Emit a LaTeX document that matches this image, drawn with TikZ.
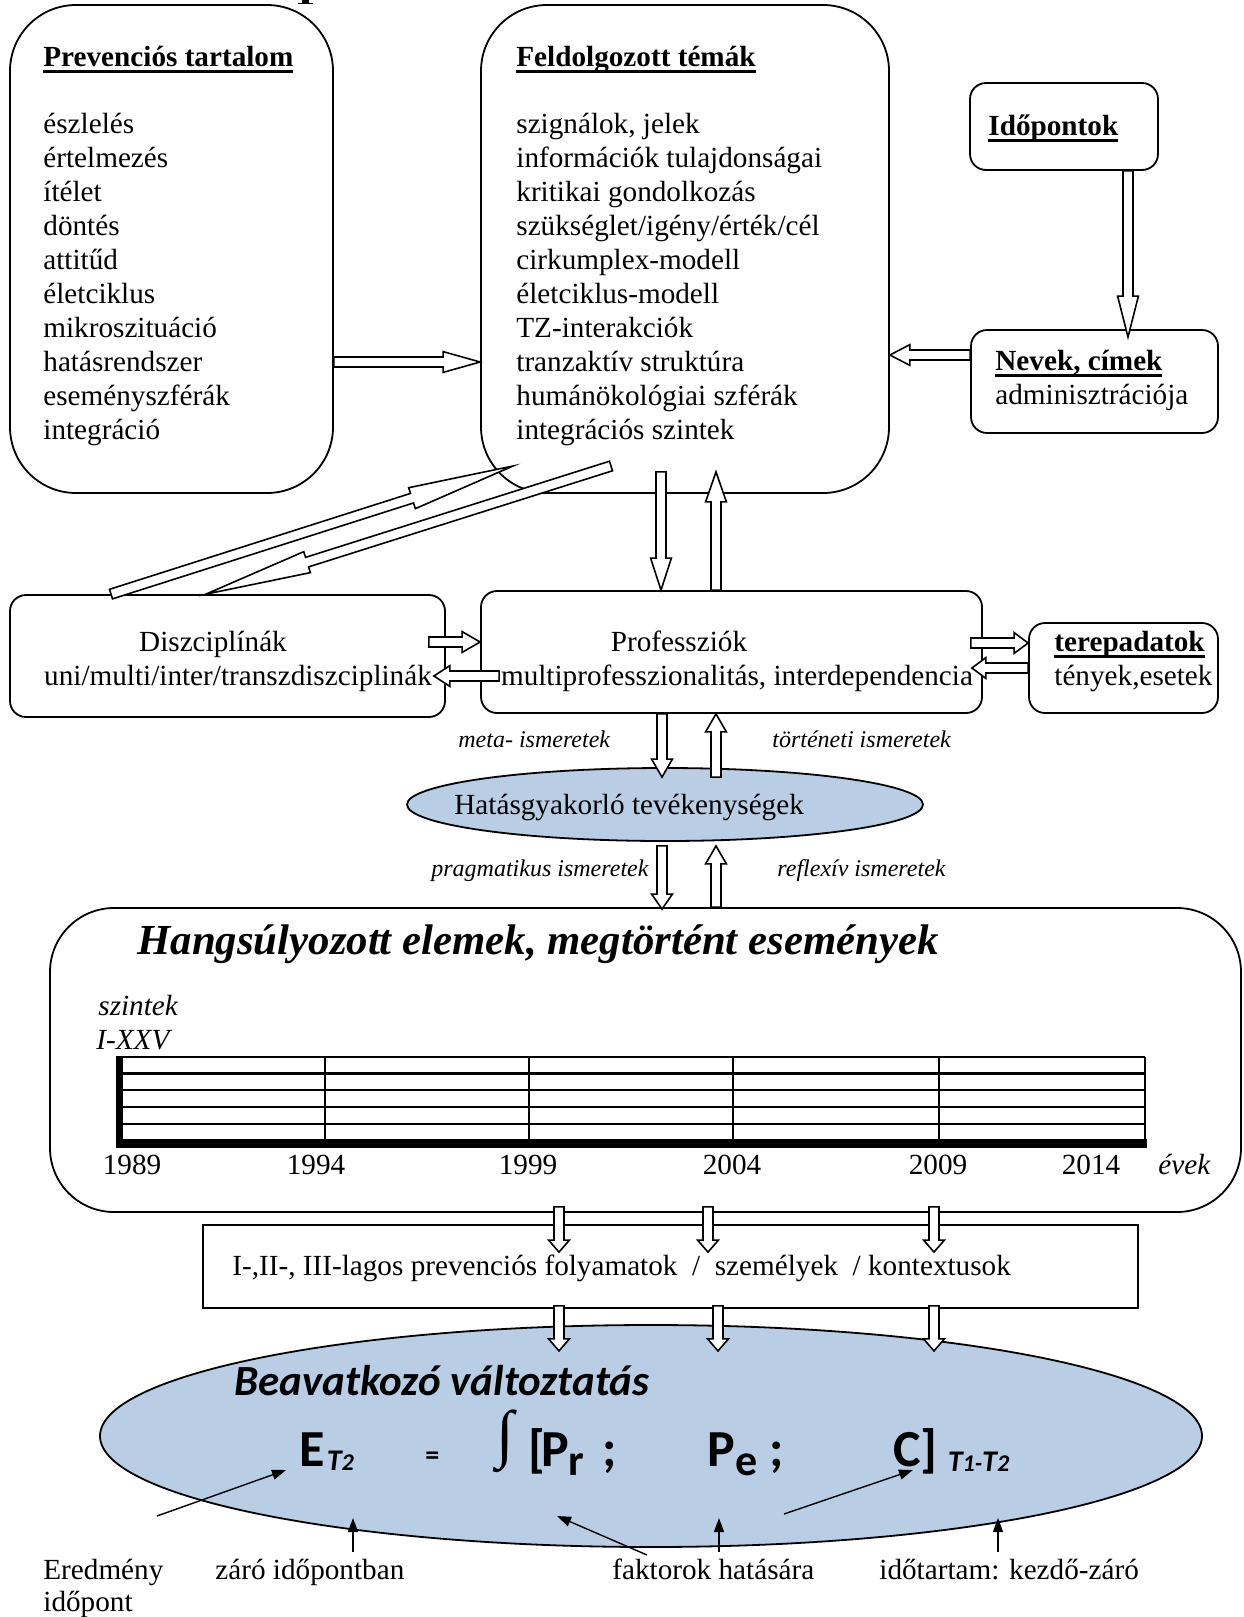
\documentclass[tikz,border=0pt]{standalone}
\usepackage{fontspec}
\setmainfont{Liberation Serif}
\newfontfamily\calib{Carlito}
\usetikzlibrary{calc,arrows.meta,shapes.geometric}
\newsavebox\ulbox
\newcommand\bul[1]{\sbox\ulbox{\textbf{#1}}\rlap{\rule[-3.4pt]{\wd\ulbox}{1.2pt}}\usebox\ulbox}
\definecolor{ellblue}{HTML}{B9CDE5}
\newcommand\barrow[5]{%
 \coordinate (ba-s) at (#1);
 \coordinate (ba-e) at (#2);
 \coordinate (ba-h) at ($(ba-e)!#5!(ba-s)$);
 \path[blockarrow] ($(ba-s)!#3!90:(ba-e)$) -- ($(ba-h)!#3!-90:(ba-s)$) -- ($(ba-h)!#4!-90:(ba-s)$) -- (ba-e) -- ($(ba-h)!#4!90:(ba-s)$) -- ($(ba-h)!#3!90:(ba-s)$) -- ($(ba-s)!#3!-90:(ba-e)$) -- cycle;}
\newcommand\ba[3][9pt]{\barrow{#2}{#3}{2.5pt}{5.2pt}{#1}}
\newcommand\subT[1]{{\itshape\fontsize{15}{15}\selectfont T{\fontsize{12}{12}\selectfont #1}}}
\begin{document}
\begin{tikzpicture}[x=0.5pt,y=-0.5pt,
  txt/.style={font=\fontsize{14.6}{17}\selectfont, inner sep=0pt, anchor=base west},
  itl/.style={font=\fontsize{12}{14}\selectfont\itshape, inner sep=0pt, anchor=base west},
  bigbox/.style={draw, line width=0.9pt, rounded corners=33pt, inner sep=0pt},
  smallbox/.style={draw, line width=0.9pt, rounded corners=8pt, inner sep=0pt},
  ellbox/.style={ellipse, draw, fill=ellblue, line width=0.9pt, inner sep=0pt},
  blockarrow/.style={draw, fill=white, line width=0.8pt, line join=miter},
  ptr/.style={line width=0.7pt, -{Triangle[length=7pt,width=5pt]}},
  calb/.style={font=\calib\bfseries\fontsize{26}{28}\selectfont, inner sep=0pt, anchor=base west},
  tline/.style={line width=1.3pt}
]
\useasboundingbox (0,0) rectangle (1243,1617);
\fill[white] (0,0) rectangle (1243,1617);
\clip (0,0) rectangle (1243,1617);
% cut-off fragment at the top edge
\fill (302,0) rectangle (309,2.5);
\fill (298,2.5) rectangle (313,4);

% boxes
\node[bigbox, minimum width=161.5pt, minimum height=244pt] (b1) at (171.5,249) {};
\node[bigbox, minimum width=204pt, minimum height=244pt] (b2) at (685,249) {};
\node[smallbox, minimum width=94pt, minimum height=43.5pt] (b3) at (1064,126.5) {};
\node[smallbox, minimum width=123.5pt, minimum height=51.5pt] (b4) at (1094.5,381.5) {};
\node[smallbox, minimum width=217.5pt, minimum height=61pt] (b5) at (227.5,656) {};
\node[smallbox, minimum width=250.5pt, minimum height=61pt] (b6) at (731.5,652) {};
\node[smallbox, minimum width=94.5pt, minimum height=45pt] (b7) at (1123.5,668) {};
\node[ellbox, minimum width=258pt, minimum height=36.5pt] (e1) at (665,804.5) {};
\node[bigbox, rounded corners=32pt, minimum width=595.5pt, minimum height=152pt] (b8) at (645.5,1060) {};
\node[draw, line width=0.9pt, minimum width=467.5pt, minimum height=41.5pt, inner sep=0pt] (b9) at (670.5,1266.5) {};
\node[ellbox, minimum width=551pt, minimum height=111pt] (e2) at (651,1436) {};

% texts box 1 and 2
\node[txt] (t1h) at (43,66) {\bul{Prevenciós tartalom}};
\foreach \t [count=\i from 0] in {észlelés,értelmezés,ítélet,döntés,attitűd,életciklus,mikroszituáció,hatásrendszer,eseményszférák,integráció}
  {\node[txt] (pa\i) at (43,133+34*\i) {\t};}
\node[txt] (t2h) at (516,66) {\bul{Feldolgozott témák}};
\foreach \t [count=\i from 0] in {{szignálok, jelek},információk tulajdonságai,kritikai gondolkozás,szükséglet/igény/érték/cél,cirkumplex-modell,életciklus-modell,TZ-interakciók,tranzaktív struktúra,humánökológiai szférák,integrációs szintek}
  {\node[txt] (pb\i) at (516,133+34*\i) {\t};}
\node[txt] (t3) at (988,135) {\bul{Időpontok}};
\node[txt] (t4a) at (995,370) {\bul{Nevek, címek}};
\node[txt] (t4b) at (995,404) {adminisztrációja};
\node[txt, anchor=base] (t5a) at (213,651) {Diszciplínák};
\node[txt, anchor=base] (t5b) at (238,685) {uni/multi/inter/transzdiszciplinák};
\node[txt, anchor=base] (t6a) at (679,651) {Professziók};
\node[txt, anchor=base] (t6b) at (737,685) {multiprofesszionalitás, interdependencia};
\node[txt] (t7a) at (1054,651) {\bul{terepadatok}};
\node[txt] (t7b) at (1054,685) {tények,esetek};
\node[txt] (te1) at (454,814) {Hatásgyakorló tevékenységek};
\node[itl] (l1) at (458,747) {meta- ismeretek};
\node[itl] (l2) at (772,747) {történeti ismeretek};
\node[itl] (l3) at (431,876) {pragmatikus ismeretek};
\node[itl] (l4) at (777,876) {reflexív ismeretek};

% big box content
\node[txt, font=\bfseries\itshape\fontsize{21.4}{24}\selectfont] (h8) at (137,954) {Hangsúlyozott elemek, megtörtént események};
\node[txt, font=\itshape\fontsize{14.6}{17}\selectfont] (sz1) at (98,1015) {szintek};
\node[txt, font=\itshape\fontsize{14.6}{17}\selectfont] (sz2) at (96,1049) {I-XXV};
\foreach \y in {1057,1073.5,1090,1107,1124} {\draw[tline] (117,\y) -- (1145,\y);}
\foreach \x in {325,529,733,939,1145} {\draw[tline] (\x,1057) -- (\x,1143);}
\fill (116,1139) rectangle (1147,1148);
\fill (116,1056) rectangle (123,1148);
\foreach \yr/\x in {1989/132,1994/316,1999/528,2004/732,2009/938,2014/1091}
  {\node[txt, anchor=base] (y\yr) at (\x,1174) {\yr};}
\node[txt, font=\itshape\fontsize{14.6}{17}\selectfont] (ev) at (1158,1174) {évek};
\node[txt] (t9) at (232,1275) {I-,II-, III-lagos prevenciós folyamatok \ / \ személyek \ / kontextusok};

% formula ellipse content
\node[txt, font=\calib\bfseries\itshape\fontsize{21.5}{24}\selectfont] (bv) at (234,1395) {Beavatkozó változtatás};
\node[calb] (fE) at (299,1466) {E\hspace{1pt}\raisebox{-2pt}{\subT{2}}};
\node[calb, font=\calib\bfseries\fontsize{14}{14}\selectfont] (feq) at (425,1464) {=};
\node[inner sep=0pt, font=\bfseries\fontsize{32}{32}\selectfont] (fint) at (505,1441) {∫};
\node[calb] (fPr) at (528,1466) {[\hspace{-2pt}P\raisebox{-4.5pt}{\fontsize{22}{22}\selectfont r}\hspace{9pt};};
\node[calb] (fPe) at (707,1466) {P\raisebox{-4.5pt}{\fontsize{22}{22}\selectfont e}\hspace{6pt};};
\node[calb] (fC) at (893,1466) {C]\hspace{5pt}\raisebox{-2.5pt}{{\itshape\fontsize{15}{15}\selectfont T{\fontsize{12}{12}\selectfont 1-}T{\fontsize{12}{12}\selectfont 2}}}};

% bottom labels
\node[txt] (lb1) at (43,1579) {Eredmény};
\node[txt] (lb1b) at (43,1611) {időpont};
\node[txt] (lb2) at (215,1579) {záró időpontban};
\node[txt] (lb3) at (612,1579) {faktorok hatására};
\node[txt] (lb4) at (879,1579) {időtartam: kezdő-záró};

% block arrows
\coordinate (d1) at (513,466);
\coordinate (d2) at (611,466);
\ba[18.5pt]{b1.east |- 0,362}{b2.west |- 0,362}
\ba[20.5pt]{b3.south -| 1128,0}{$(b4.north -| 1128,0)+(0,8)$}
\ba[10pt]{b4.west |- 0,355}{b2.east |- 0,355}
\barrow{b5.north -| 111,0}{d1}{2.5pt}{5.5pt}{53pt}
\barrow{d2}{b5.north -| 206,0}{2.5pt}{5.5pt}{53pt}
\ba[16pt]{$(b2.south -| 661,0)+(0,-22)$}{b6.north -| 661,0}
\ba[15pt]{b6.north -| 716,0}{$(b2.south -| 716,0)+(0,-22)$}
\ba[9pt]{$(b5.east |- 0,642)+(-17,0)$}{b6.west |- 0,642}
\ba[8pt]{$(b6.west |- 0,676)+(19,0)$}{$(b5.east |- 0,676)+(-12,0)$}
\ba[7pt]{$(b6.east |- 0,643)+(-12,0)$}{b7.west |- 0,643}
\ba[7pt]{b7.west |- 0,668}{$(b6.east |- 0,668)+(-11,0)$}
\ba[9pt]{b6.south -| 662,0}{$(e1.north -| 662,0)+(0,10)$}
\ba[9pt]{$(e1.north -| 716,0)+(0,10)$}{b6.south -| 716,0}
\ba[7.5pt]{$(e1.south -| 662,0)+(0,4)$}{$(b8.north -| 662,0)+(0,2)$}
\ba[9pt]{b8.north -| 716,0}{$(e1.south -| 716,0)+(0,4)$}
\foreach \x in {559,708,934}
  {\ba[6pt]{$(b8.south -| \x,0)+(0,-6)$}{$(b9.north -| \x,0)+(0,28)$}}
\foreach \x in {559,718,934}
  {\ba[6pt]{$(b9.south -| \x,0)+(0,-3)$}{$(b9.south -| \x,0)+(0,42)$}}

% pointer arrows
\coordinate (p1) at (157,1516);
\coordinate (p2) at (353,1552);
\coordinate (p3) at (647,1555);
\coordinate (p4) at (719,1552);
\coordinate (p5) at (784,1514);
\coordinate (p6) at (998,1552);
\draw[ptr] (p1) -- ($(fE.base west)+(-13,4)$);
\draw[ptr] (p2) -- (353,1518);
\draw[ptr] (p3) -- (557,1516);
\draw[ptr] (p4) -- (719,1518);
\draw[ptr] (p5) -- ($(fC.base west)+(20,4)$);
\draw[ptr] (p6) -- (998,1518);
\end{tikzpicture}
\end{document}
